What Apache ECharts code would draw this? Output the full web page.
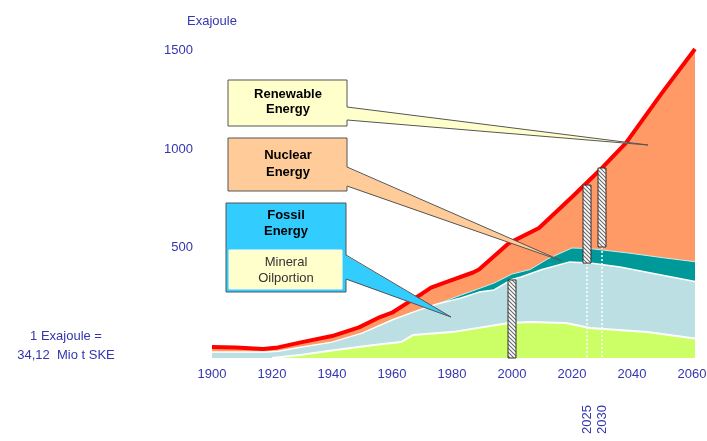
<!DOCTYPE html>
<html>
<head>
<meta charset="utf-8">
<title>World energy demand</title>
<script src="https://cdn.jsdelivr.net/npm/echarts@6/dist/echarts.min.js"></script>
<style>
  html, body { margin: 0; padding: 0; background: #fff; }
  #main { width: 707px; height: 441px; }
</style>
</head>
<body>
<div id="main"></div>
<script>
// axis labels
const yearTicks = [1900, 1920, 1940, 1960, 1980, 2000, 2020, 2040, 2060];
const markYears = [2025, 2030];
const valueTicks = [500, 1000, 1500];

// Exajoule (the drawn baseline sits a bit below 0)
const totalYears = [1900, 1908, 1917, 1922, 1930, 1940, 1949, 1956, 1960, 1965, 1970, 1973, 1978, 1987, 1989, 1999, 2009, 2020, 2030, 2038, 2050, 2061];
const totalValues = [-10, -12, -20, -12, 15, 46, 90, 143, 165, 214, 262, 293, 321, 370, 385, 520, 597, 755, 903, 1031, 1286, 1510];

const nuclearYears = [1972, 1975, 1983, 1989, 1994, 2000, 2006, 2012, 2020, 2026, 2039, 2050, 2061];
const nuclearTop = [194, 209, 255, 288, 316, 362, 385, 440, 495, 492, 469, 446, 425];

const fossilYears = [1900, 1918, 1922, 1930, 1940, 1950, 1960, 1967, 1972, 1975, 1983, 1989, 1994, 2000, 2003, 2010, 2019, 2026, 2036, 2048, 2061];
const fossilTop = [-36, -36, -31, -10, 15, 61, 128, 168, 194, 209, 240, 270, 281, 335, 347, 385, 423, 418, 398, 362, 324];

const oilYears = [1920, 1930, 1940, 1954, 1963, 1967, 1980, 1999, 2006, 2018, 2026, 2045, 2061];
const oilTop = [-66, -50, -28, 0, 15, 51, 66, 112, 117, 112, 87, 66, 34];

// hatched marker columns
const barYears = [2000, 2025, 2030];
const barLow = [-66, 418, 500];
const barHigh = [332, 816, 903];

const yMin = -66;
const blue = '#3535b0';

const pairs = (xs, ys) => xs.map((x, i) => [x, ys[i]]);
const plain = v => String(v);

// diagonal hatch for the marker columns
const hatch = document.createElement('canvas');
hatch.width = hatch.height = 4;
const hc = hatch.getContext('2d');
hc.fillStyle = '#fff';
hc.fillRect(0, 0, 4, 4);
hc.strokeStyle = '#6a6a6a';
hc.lineWidth = 1.1;
hc.beginPath();
hc.moveTo(0, 0); hc.lineTo(4, 4);
hc.moveTo(-1, 3); hc.lineTo(1, 5);
hc.moveTo(3, -1); hc.lineTo(5, 1);
hc.stroke();

const chart = echarts.init(document.getElementById('main'));

function layer(name, data, color, line, z) {
  return {
    name: name,
    type: 'line',
    data: data,
    symbol: 'none',
    clip: false,
    z: z,
    lineStyle: line,
    areaStyle: { color: color, opacity: 1, origin: 'start' },
    animation: false
  };
}

chart.setOption({
  animation: false,
  textStyle: { fontFamily: 'Liberation Sans, Arial, sans-serif' },
  grid: { left: 212, right: 9, top: 47, bottom: 83, containLabel: false, outerBoundsMode: 'none' },
  xAxis: [{
    type: 'value',
    min: 1900,
    max: 2062,
    axisLine: { show: false },
    axisTick: { show: false },
    splitLine: { show: false },
    axisLabel: { customValues: yearTicks, formatter: plain, color: blue, fontSize: 13, margin: 10 }
  }, {
    type: 'value',
    position: 'bottom',
    min: 1900,
    max: 2062,
    axisLine: { show: false },
    axisTick: { show: false },
    splitLine: { show: false },
    axisLabel: { customValues: markYears, formatter: plain, color: blue, fontSize: 13, rotate: 90, margin: 47 }
  }],
  yAxis: {
    type: 'value',
    min: yMin,
    max: 1520,
    name: 'Exajoule',
    nameLocation: 'end',
    nameGap: 19,
    nameTextStyle: { color: blue, fontSize: 13 },
    axisLine: { show: false },
    axisTick: { show: false },
    splitLine: { show: false },
    axisLabel: { customValues: valueTicks, formatter: plain, color: blue, fontSize: 13, margin: 19 }
  },
  series: [
    layer('Renewable Energy', pairs(totalYears, totalValues), '#ff9966',
      { color: '#ff0000', width: 4 }, 2),
    layer('Nuclear Energy', pairs(nuclearYears, nuclearTop), '#009999',
      { color: '#c8eeee', width: 1 }, 3),
    layer('Fossil Energy', pairs(fossilYears, fossilTop), '#bbdfe2',
      { color: '#ffffff', width: 1.5 }, 4),
    layer('Mineral Oilportion', pairs(oilYears, oilTop), '#ccff66',
      { color: '#ffffff', width: 2 }, 5),
    {
      type: 'custom',
      coordinateSystem: 'cartesian2d',
      clip: false,
      z: 6,
      data: barYears.map((y, i) => [y, barLow[i], barHigh[i]]),
      encode: { x: 0, y: [1, 2] },
      renderItem: function (params, api) {
        const x = api.value(0);
        const top = api.coord([x, api.value(2)]);
        const bottom = api.coord([x, api.value(1)]);
        const base = api.coord([x, yMin]);
        const w = 8;
        const children = [];
        if (bottom[1] < base[1] - 1) {
          children.push({
            type: 'line',
            shape: { x1: top[0], y1: bottom[1], x2: top[0], y2: base[1] },
            style: { stroke: '#ffffff', lineWidth: 1.5, lineDash: [2, 2] }
          });
        }
        children.push({
          type: 'rect',
          shape: { x: top[0] - w / 2, y: top[1], width: w, height: bottom[1] - top[1] },
          style: { fill: { image: hatch, repeat: 'repeat' }, stroke: '#333', lineWidth: 1 }
        });
        return { type: 'group', children: children };
      }
    }
  ],
  graphic: [
    // Renewable callout
    { type: 'rect', z: 100, shape: { x: 228, y: 80, width: 119, height: 46 },
      style: { fill: '#ffffcc', stroke: '#555', lineWidth: 1 } },
    { type: 'polygon', z: 101, shape: { points: [[346, 107], [648, 145], [346, 120]] },
      style: { fill: '#ffffcc' } },
    { type: 'polyline', z: 102, shape: { points: [[347, 107], [648, 145], [347, 120]] },
      style: { stroke: '#555', lineWidth: 1, fill: null } },
    { type: 'text', z: 103, x: 288, y: 102,
      style: { text: 'Renewable\nEnergy', fill: '#000', font: 'bold 13px Liberation Sans, Arial, sans-serif',
        align: 'center', verticalAlign: 'middle', lineHeight: 15 } },

    // Nuclear callout
    { type: 'rect', z: 100, shape: { x: 228, y: 138, width: 119, height: 53 },
      style: { fill: '#ffcc99', stroke: '#555', lineWidth: 1 } },
    { type: 'polygon', z: 101, shape: { points: [[346, 167], [562, 261], [346, 186]] },
      style: { fill: '#ffcc99' } },
    { type: 'polyline', z: 102, shape: { points: [[347, 167], [562, 261], [347, 186]] },
      style: { stroke: '#555', lineWidth: 1, fill: null } },
    { type: 'text', z: 103, x: 288, y: 164,
      style: { text: 'Nuclear\nEnergy', fill: '#000', font: 'bold 13px Liberation Sans, Arial, sans-serif',
        align: 'center', verticalAlign: 'middle', lineHeight: 17 } },

    // Fossil callout with the oil share inside
    { type: 'rect', z: 100, shape: { x: 226, y: 203, width: 120, height: 89 },
      style: { fill: '#33ccff', stroke: '#555', lineWidth: 1 } },
    { type: 'polygon', z: 101, shape: { points: [[345, 255], [451, 317], [345, 279]] },
      style: { fill: '#33ccff' } },
    { type: 'polyline', z: 102, shape: { points: [[346, 255], [451, 317], [346, 279]] },
      style: { stroke: '#555', lineWidth: 1, fill: null } },
    { type: 'text', z: 103, x: 286, y: 223,
      style: { text: 'Fossil\nEnergy', fill: '#000', font: 'bold 13px Liberation Sans, Arial, sans-serif',
        align: 'center', verticalAlign: 'middle', lineHeight: 16 } },
    { type: 'rect', z: 103, shape: { x: 229, y: 250, width: 113, height: 39 },
      style: { fill: '#ffffcc', stroke: '#ffffe8', lineWidth: 1 } },
    { type: 'text', z: 104, x: 286, y: 270,
      style: { text: 'Mineral\nOilportion', fill: '#333', font: '13px Liberation Sans, Arial, sans-serif',
        align: 'center', verticalAlign: 'middle', lineHeight: 16 } },

    // unit note
    { type: 'text', z: 100, x: 66, y: 346,
      style: { text: '1 Exajoule =\n34,12  Mio t SKE', fill: blue, font: '13px Liberation Sans, Arial, sans-serif',
        align: 'center', verticalAlign: 'middle', lineHeight: 19 } }
  ]
});
</script>
</body>
</html>
